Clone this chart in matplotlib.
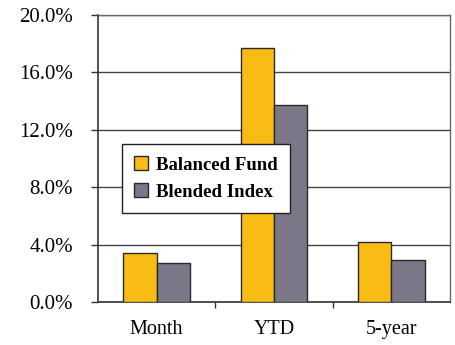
import matplotlib
matplotlib.use("Agg")
from matplotlib import pyplot as plt
from matplotlib.ticker import FuncFormatter
import numpy as np

categories = ["Month", "YTD", "5-year"]
balanced_fund = [3.4, 17.7, 4.2]
blended_index = [2.7, 13.7, 2.9]
series_names = ["Balanced Fund", "Blended Index"]

plt.rcParams['font.family'] = ['Liberation Serif', 'DejaVu Serif']

fig = plt.figure(figsize=(4.55, 3.45), dpi=100)
ax = fig.add_axes([0.2154, 0.1246, 0.989 - 0.2154, 0.9565 - 0.1246])

x = np.arange(len(categories))
w = 0.285
ax.bar(x - w / 2, balanced_fund, w, color='#F9BC15', edgecolor='#2a2a2a', linewidth=1.0,
       label=series_names[0], zorder=3)
ax.bar(x + w / 2, blended_index, w, color='#7B7789', edgecolor='#2a2a2a', linewidth=1.0,
       label=series_names[1], zorder=3)

ax.set_xlim(-0.5, 2.5)
ax.set_ylim(0, 20)
ax.set_yticks(np.arange(0, 20.1, 4))
ax.yaxis.set_major_formatter(FuncFormatter(lambda v, p: '{:.1f}%'.format(v)))
ax.set_xticks(x)
ax.set_xticklabels(categories)
ax.set_xticks([0.5, 1.5], minor=True)
ax.tick_params(axis='x', which='major', length=0, pad=13, labelsize=14.5)
ax.tick_params(axis='x', which='minor', length=4, width=1.0, color='#333333')
ax.tick_params(axis='y', length=5, width=1.0, color='#333333', labelsize=15, pad=13)

ax.grid(axis='y', color='#444444', linewidth=1.0, zorder=0)
for s in ['top', 'right']:
    ax.spines[s].set_color('#666666')
    ax.spines[s].set_linewidth(1.0)
for s in ['left', 'bottom']:
    ax.spines[s].set_color('#333333')
    ax.spines[s].set_linewidth(1.2)

leg = ax.legend(loc='upper left', bbox_to_anchor=(0.068, 0.55), frameon=True, fancybox=False,
                edgecolor='#222222', framealpha=1, fontsize=13.5, handlelength=0.75, handleheight=0.75,
                handletextpad=0.4, borderpad=0.65, labelspacing=0.5, borderaxespad=0)
leg.get_frame().set_linewidth(1.0)
for t in leg.get_texts():
    t.set_fontweight('bold')
leg.set_zorder(5)

fig.savefig('out.png', dpi=100)
